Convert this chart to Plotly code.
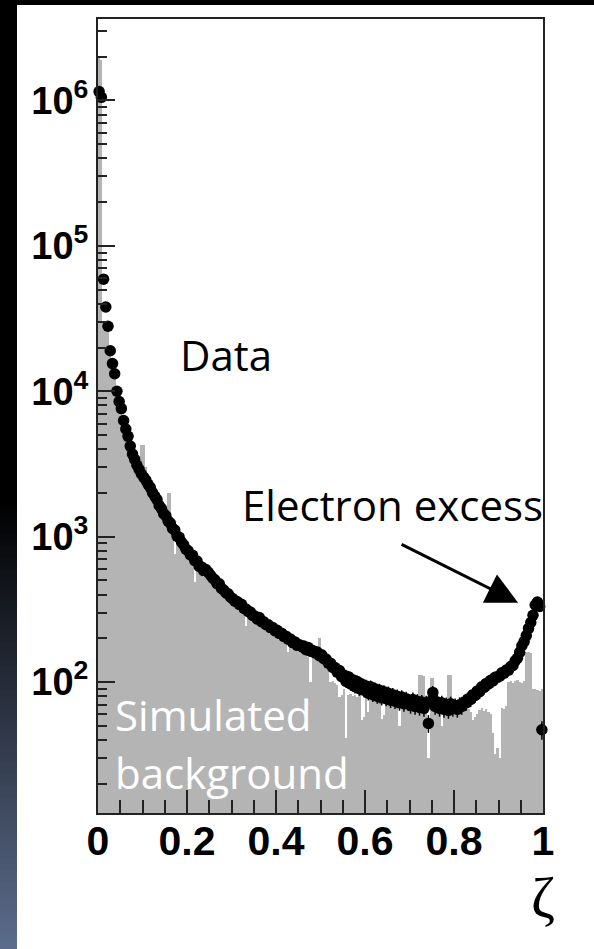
import numpy as np
import plotly.graph_objects as go

# ---------------- data ----------------
bin_width = 0.005
n_bins = 200

data_counts = [
    1150000, 1050000, 59000, 38000, 28000, 19000, 15500, 13200, 10000, 8500,
    7600, 6300, 5500, 4900, 4200, 3700, 3400, 3100, 2900, 2700,
    2570, 2450, 2290, 2180, 2010, 1900, 1800, 1640, 1560, 1440,
    1390, 1280, 1240, 1140, 1110, 1010, 990, 920, 880, 820,
    800, 750, 745, 685, 680, 625, 620, 585, 595, 570,
    545, 520, 505, 475, 475, 440, 430, 410, 405, 385,
    375, 360, 358, 342, 343, 322, 318, 306, 303, 287,
    285, 272, 278, 260, 260, 248, 248, 237, 237, 226,
    227, 216, 217, 206, 207, 197, 198, 187, 189, 179,
    181, 175, 177, 167, 173, 163, 165, 159, 161, 152,
    154, 145, 144, 135, 135, 126, 126, 117, 120, 109,
    112, 101, 109, 97, 104, 93, 101, 90, 97, 88,
    94, 84, 93, 82, 90, 80, 88, 78, 86, 77,
    84, 75, 82, 74, 80, 72, 79, 71, 77, 72,
    69, 76, 68, 74, 67, 73, 66, 72, 52, 74,
    85, 68, 73, 66, 72, 65, 70, 64, 71, 66,
    69, 65, 70, 68, 73, 72, 77, 76, 82, 81,
    87, 86, 93, 92, 98, 97, 103, 102, 108, 108,
    110, 116, 115, 121, 121, 128, 130, 140, 146, 160,
    178, 190, 209, 234, 257, 288, 339, 355, 331, 47,
]

sim_counts = [
    2000000, 1900000, 30000, 29000, 27000, 20000, 16000, 13000, 10500, 8800,
    7400, 6000, 5300, 4600, 4000, 3500, 3200, 2900, 2600, 4300,
    4300, 3000, 2100, 1950, 1850, 1750, 1650, 1500, 1400, 1300,
    1250, 2000, 2000, 1050, 760, 950, 880, 850, 780, 750,
    720, 690, 660, 490, 610, 570, 550, 530, 520, 500,
    490, 470, 450, 430, 420, 400, 385, 370, 360, 350,
    335, 325, 320, 310, 300, 290, 245, 280, 270, 260,
    255, 248, 245, 238, 230, 225, 220, 215, 210, 205,
    200, 196, 192, 188, 184, 160, 175, 172, 168, 164,
    160, 160, 156, 153, 150, 100, 146, 145, 142, 200,
    136, 133, 127, 124, 100, 102, 98, 96, 79, 81,
    90, 41, 81, 83, 80, 82, 79, 84, 55, 58,
    85, 62, 86, 84, 85, 83, 86, 56, 59, 81,
    82, 80, 79, 81, 78, 50, 76, 77, 75, 76,
    74, 77, 75, 76, 112, 112, 110, 76, 30, 107,
    107, 72, 70, 73, 50, 71, 72, 112, 112, 66,
    66, 68, 64, 66, 63, 67, 65, 62, 55, 58,
    60, 64, 66, 63, 65, 62, 60, 45, 32, 35,
    30, 66, 65, 68, 100, 102, 98, 101, 103, 100,
    99, 102, 160, 162, 158, 89, 90, 88, 87, 89,
]

x_tick_vals = [0, 0.2, 0.4, 0.6, 0.8, 1.0]
x_tick_text = ["0", "0.2", "0.4", "0.6", "0.8", "1"]
y_tick_vals = [1e2, 1e3, 1e4, 1e5, 1e6]
y_tick_text = ["10<sup>2</sup>", "10<sup>3</sup>", "10<sup>4</sup>",
               "10<sup>5</sup>", "10<sup>6</sup>"]
y_minor_vals = [k * 10 ** n for n in range(1, 7) for k in range(2, 10)]

centers = (np.arange(n_bins) + 0.5) * bin_width
data_arr = np.array(data_counts, dtype=float)
data_err = np.sqrt(data_arr)

# ---------------- layout geometry ----------------
W, H = 594, 949
L, R, T, B = 98, 51, 19, 136
pw, ph = W - L - R, H - T - B


def pxx(x):
    return (x - L) / pw


def pxy(y):
    return (H - B - y) / ph


fig = go.Figure()

fig.add_trace(go.Bar(
    x=centers, y=sim_counts, width=bin_width,
    marker=dict(color="#b4b4b4", line=dict(width=0)),
    showlegend=False, hoverinfo="skip",
))

fig.add_trace(go.Scatter(
    x=centers, y=data_counts, mode="markers",
    marker=dict(color="black", size=11.5, symbol="circle"),
    error_y=dict(type="data", array=data_err, visible=True,
                 color="black", thickness=1.5, width=0),
    cliponaxis=False, showlegend=False,
))

# ---------------- background decoration ----------------
shapes = []
shapes.append(dict(type="rect", xref="paper", yref="paper",
                   x0=pxx(0), x1=pxx(W), y0=pxy(0), y1=pxy(5),
                   fillcolor="black", line=dict(width=0), layer="below"))
step = 6
for y0 in range(0, H, step):
    yc = y0 + step / 2
    f = 0.0 if yc < 500 else (yc - 500) / (H - 500)
    col = "rgb(%d,%d,%d)" % (round(92 * f), round(108 * f), round(140 * f))
    shapes.append(dict(type="rect", xref="paper", yref="paper",
                       x0=pxx(0), x1=pxx(17), y0=pxy(y0), y1=pxy(y0 + step),
                       fillcolor=col, line=dict(width=0), layer="below"))

ann_font = "Open Sans"
annotations = [
    dict(text="Data", x=0.18, y=np.log10(17800), xref="x", yref="y",
         xanchor="left", yanchor="middle", showarrow=False,
         font=dict(family=ann_font, size=42, color="black")),
    dict(text="Electron excess", x=0.319, y=np.log10(1660), xref="x", yref="y",
         xanchor="left", yanchor="middle", showarrow=False,
         font=dict(family=ann_font, size=42, color="black")),
    dict(text="Simulated", x=0.034, y=np.log10(60), xref="x", yref="y",
         xanchor="left", yanchor="middle", showarrow=False,
         font=dict(family=ann_font, size=42, color="white")),
    dict(text="background", x=0.034, y=np.log10(24), xref="x", yref="y",
         xanchor="left", yanchor="middle", showarrow=False,
         font=dict(family=ann_font, size=42, color="white")),
    dict(text="", x=0.944, y=np.log10(352), xref="x", yref="y",
         showarrow=True, ax=-118, ay=-59, arrowhead=2, arrowsize=2.1,
         arrowwidth=3, arrowcolor="black", standoff=0),
    dict(text="ζ", x=pxx(543), y=pxy(897), xref="paper", yref="paper",
         xanchor="center", yanchor="middle", showarrow=False,
         font=dict(family="Liberation Serif", size=58, color="black")),
]

fig.update_layout(
    width=W, height=H, autosize=False,
    margin=dict(l=L, r=R, t=T, b=B, pad=0),
    paper_bgcolor="white", plot_bgcolor="white",
    bargap=0, shapes=shapes, annotations=annotations,
    xaxis=dict(
        range=[0, 1], showgrid=False, zeroline=False,
        showline=True, linecolor="#222", linewidth=2, mirror=True,
        ticks="inside", ticklen=23, tickwidth=2, tickcolor="#222",
        tickvals=x_tick_vals, ticktext=x_tick_text,
        minor=dict(ticks="inside", ticklen=13, tickwidth=2, tickcolor="#222",
                   dtick=0.05, showgrid=False),
        tickfont=dict(family="Liberation Sans", size=41, color="black", weight="bold"),
        ticklabelstandoff=-9,
    ),
    yaxis=dict(
        type="log", range=[1.10, 6.56], showgrid=False, zeroline=False,
        showline=True, linecolor="#222", linewidth=2, mirror=True,
        ticks="inside", ticklen=17, tickwidth=2, tickcolor="#222",
        tickvals=y_tick_vals, ticktext=y_tick_text,
        minor=dict(ticks="inside", ticklen=9, tickwidth=2, tickcolor="#222",
                   tickvals=y_minor_vals, showgrid=False),
        tickfont=dict(family="Liberation Sans", size=38, color="black", weight="bold"),
        ticklabelstandoff=0,
    ),
)

fig.write_html("out.html")
